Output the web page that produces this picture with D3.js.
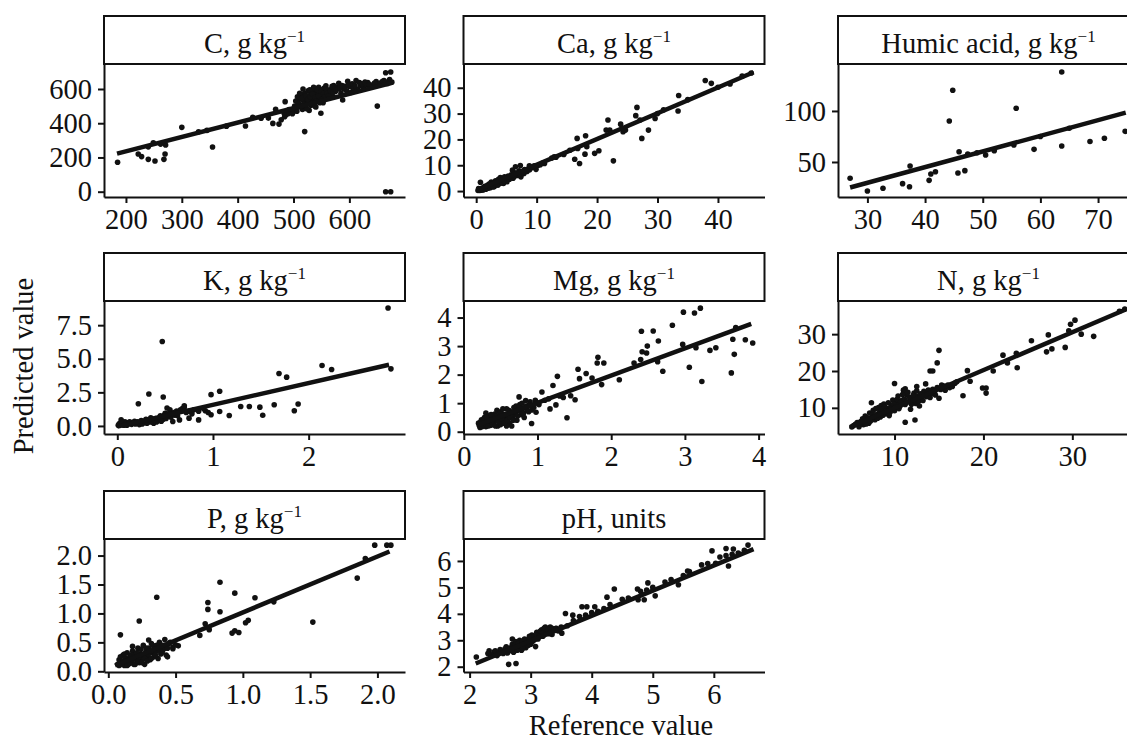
<!DOCTYPE html>
<html><head><meta charset="utf-8">
<script src="https://cdn.jsdelivr.net/npm/d3@7"></script>
<style>
body{margin:0;background:#fff}
text{font-family:"Liberation Serif","Times New Roman",serif;fill:#111}
</style>
</head><body>
<svg id="chart" width="1127" height="742"></svg>
<script>
// ---------------- DATA ----------------
const panelNames = ["C", "Ca", "Humic acid", "K", "Mg", "N", "P", "pH"];
const panelUnits = ["g kg", "g kg", "g kg", "g kg", "g kg", "g kg", "g kg", "units"];
const unitExponents = ["−1", "−1", "−1", "−1", "−1", "−1", "−1", ""];

const xTicks = [[200,300,400,500,600],[0,10,20,30,40],[30,40,50,60,70],[0,1,2],[0,1,2,3,4],[10,20,30],[0,0.5,1,1.5,2],[2,3,4,5,6]];
const yTicks = [[0,200,400,600],[0,10,20,30,40],[50,100],[0,2.5,5,7.5],[0,1,2,3,4],[10,20,30],[0,0.5,1,1.5,2],[2,3,4,5,6]];
const tickFormats = ["d","d","d","d","d","d",".1f","d"];
const yTickFormats = ["d","d","d",".1f","d","d",".1f","d"];

const xDomains = [[160.7,699.6],[-2.1,47.7],[24.9,77.1],[-0.139,3.007],[-0.004,4.08],[3.64,37.5],[-0.032,2.205],[1.9,6.83]];
const yDomains = [[-31,746],[-2.3,49.2],[15.7,146],[-0.6,9.3],[-0.08,4.58],[2.9,39],[-0.012,2.286],[1.8,6.83]];

const pointsC = [[185,172],[222,220],[228,205],[240,189],[252,179],[268,189],[270,220],[271,273],[249,286],[240,262],[262,278],[300,376],[355,261],[330,350],[345,358],[380,383],[414,384],[427,434],[442,429],[455,430],[463,399],[474,395],[468,481],[484,438],[486,448],[485,526],[496,468],[490,455],[500,470],[520,351],[549,458],[650,500],[665,0],[674,0],[665,695],[674,699],
[505,490],[508,520],[510,540],[512,505],[514,560],[516,480],[518,530],[520,575],[521,500],[523,545],[525,520],[526,590],[527,560],[528,475],[530,535],[531,505],[532,580],[533,555],[535,600],[536,520],[537,540],[538,570],[540,495],[541,585],[542,555],[544,530],[545,610],[546,575],[548,545],[550,595],[552,560],[553,520],[555,605],[557,580],[558,619],[560,550],[562,590],[565,570],[568,600],[570,555],[572,620],
[575,585],[578,610],[581,633],[585,575],[588,536],[590,600],[595,590],[597,645],[600,615],[603,580],[607,605],[612,649],[615,600],[620,620],[625,610],[630,625],[633,637],[638,615],[642,625],[648,643],[652,628],[658,640],[662,650],[668,632],[672,655],[676,640],
[502,500],[504,530],[506,470],[507,555],[509,515],[511,575],[513,495],[515,545],[517,600],[519,510],[522,560],[524,485],[526,540],[529,595],[530,555],[532,515],[534,570],[536,610],[538,500],[539,550],[541,530],[543,595],[545,560],[547,520],[549,585],[551,540],[554,575],[556,555],[559,600],[561,575],[563,560],[566,590],[569,615],[571,580],[574,600],[577,595],[583,605],[587,620],[592,615],[598,625],[605,630],[610,620],[618,638],[623,630],[628,640],[635,628],[645,635],[655,632],[660,645],[665,640],[478,420],[483,460],[492,480],[498,455]];
const fitC = [[184,222],[675,635]];

const pointsCa = [[0.7,3.4],[37.9,42.8],[38.9,41.7],[33.5,37],[33.4,31],[26.6,32.4],[26.4,29.2],[21.8,27.5],[21.5,23.6],[22.1,23.6],[23.9,25.9],[24.3,23],[24.7,23.6],[22.7,11.7],[16.7,20.4],[18.1,21.4],[16.3,12.3],[17.1,10.7],[18,14.3],[19.6,14.6],[20.3,15.6],[18.3,17.2],[16.8,16.5],[27.4,20.4],[28.5,23.6],[29.6,28.1],[27.1,27.5],[6.5,9.4],[7.3,9.9],[6,8.1],[7.9,6.8],[7.4,5.5],[8.8,9.8],[9.9,8.4],[9.6,9.8],[11.3,10.7],[12.9,13.3],
[0.3,0.2],[0.5,0.6],[0.8,0.3],[1,1.2],[1.2,0.6],[1.4,1.8],[1.5,0.9],[1.7,1.5],[1.9,2.3],[2,1.1],[2.2,2.8],[2.4,1.7],[2.5,3.5],[2.7,2.2],[2.9,3.1],[3,1.8],[3.2,4],[3.4,2.6],[3.5,3.5],[3.7,4.6],[3.9,2.9],[4,5.2],[4.2,3.8],[4.4,4.7],[4.5,2.9],[4.7,5.5],[4.9,4.1],[5.1,3.6],[5.3,5.8],[5.5,4.6],[5.8,6.3],[6.1,5],[6.4,7.1],[6.8,6],[7.1,7.8],[7.5,6.5],[8,8.3],[8.4,7.6],[9,8.8],[9.5,9.4],[10.3,10],[11,10.8],[12.5,12.8],[13.2,13.1],[14.5,14.2],[15.5,15.8],[30,30],[31,31.5],[35,35.4],[40,40.2],[42,41.5],[44,44.5],[45.5,45.7],
[0.4,1],[0.6,0.2],[0.9,0.8],[1.1,0.4],[1.3,1.4],[1.6,0.7],[1.8,1.9],[2.1,2],[2.3,1.3],[2.6,2.6],[2.8,1.6],[3.1,2.9],[3.3,3.4],[3.6,2.3],[3.8,3.7],[4.1,4.3],[4.3,3.2],[4.6,4.1],[4.8,5],[5,4.6],[5.2,5.2],[5.6,5.4],[6,6.2],[6.3,5.6],[6.6,6.7],[7,7.2],[7.3,6.8],[7.8,7.5],[8.2,8],[8.8,8.2],[9.3,9.1],[10,9.8],[10.6,10.2]];
const fitCa = [[0.2,0.4],[45.9,46]];

const pointsHumic = [[27,34],[30,21.6],[32.7,24.2],[36.1,28.8],[37.3,25.8],[37.4,46],[40.7,32],[41,38.2],[41.8,40.5],[44.2,90.2],[44.8,120.3],[45.7,39.2],[45.9,60],[46.9,41.5],[47.4,57.8],[50.5,56.9],[55.8,102.6],[55.4,66.7],[58.9,62.4],[63.7,65.7],[63.7,138.2],[68.6,70],[71.1,73.2],[74.7,80],[49,59],[52,61],[60,75],[65,83]];
const fitHumic = [[27,25],[74.8,98.3]];

const pointsK = [[2.83,8.78],[2.86,4.25],[0.47,6.28],[0.33,2.38],[0.22,1.65],[0.48,2.15],[0.52,1.33],[0.98,2.33],[1.07,2.58],[1.07,1.08],[0.98,0.83],[1.17,0.78],[1.29,1.45],[1.38,1.45],[1.49,1.4],[1.52,0.8],[1.64,1.58],[1.69,3.9],[1.77,3.63],[1.85,1.13],[1.89,1.63],[2.14,4.5],[2.24,4.2],[0.85,0.45],[0.75,0.58],[0.92,1.13],[0.70,1.38],[0.65,0.45],[0.58,0.33],
[0.01,0.05],[0.03,0.2],[0.04,0.45],[0.06,0.1],[0.08,0.3],[0.1,0.05],[0.12,0.25],[0.15,0.12],[0.18,0.35],[0.2,0.2],[0.23,0.1],[0.25,0.4],[0.28,0.25],[0.3,0.5],[0.33,0.3],[0.35,0.6],[0.38,0.2],[0.4,0.55],[0.43,0.4],[0.45,0.75],[0.48,0.5],[0.5,0.95],[0.52,0.7],[0.55,1.2],[0.57,0.9],[0.6,0.8],[0.62,1.1],[0.68,1.3],[0.72,1.0],[0.8,1.2],
[0.02,0.15],[0.05,0.3],[0.07,0.05],[0.09,0.2],[0.11,0.12],[0.13,0.3],[0.16,0.2],[0.19,0.15],[0.21,0.3],[0.24,0.2],[0.26,0.15],[0.29,0.35],[0.31,0.2],[0.34,0.45],[0.36,0.3],[0.39,0.4],[0.41,0.3],[0.44,0.6],[0.46,0.35],[0.49,0.8],[0.51,0.55],[0.53,0.9],[0.56,0.65],[0.59,1.0],[0.63,0.75],[0.66,1.2],[0.7,1.5],[0.75,1.1],[0.78,0.9],[0.85,1.1],[0.9,1.3],[0.95,1.0]];
const fitK = [[0.0,-0.05],[2.84,4.55]];

const pointsMg = [[2.98,4.19],[3.13,4.16],[3.21,4.33],[2.41,3.52],[2.57,3.53],[2.83,3.73],[2.97,3.06],[2.64,3.18],[2.48,2.76],[2.42,2.8],[2.49,3.0],[2.4,2.53],[2.31,2.41],[2.7,2.12],[2.63,2.45],[3.06,2.26],[3.23,1.76],[3.15,2.94],[3.34,2.85],[3.42,2.94],[3.63,2.06],[3.65,3.24],[3.67,2.71],[3.69,3.65],[3.82,3.22],[3.92,3.11],[2.11,1.82],[1.81,2.41],[1.9,2.41],[1.82,2.61],[1.87,1.65],[1.66,2.04],[1.55,2.19],[1.57,1.86],[1.74,1.88],[1.4,0.49],[1.27,1.94],[1.21,1.62],[1.06,1.39],[1.17,0.8],[1.25,0.94],[1.45,1.26],[1.51,1.12],[0.92,0.76],[0.92,0.29],[0.98,0.68],[0.75,1.22],[0.84,1.09],
[0.2,0.3],[0.22,0.15],[0.24,0.42],[0.26,0.25],[0.28,0.5],[0.3,0.18],[0.32,0.35],[0.34,0.55],[0.36,0.22],[0.38,0.45],[0.4,0.3],[0.42,0.62],[0.44,0.4],[0.46,0.2],[0.48,0.52],[0.5,0.7],[0.52,0.35],[0.54,0.6],[0.56,0.45],[0.58,0.8],[0.6,0.55],[0.62,0.3],[0.64,0.7],[0.66,0.5],[0.68,0.85],[0.7,0.62],[0.72,0.4],[0.74,0.75],[0.76,0.95],[0.78,0.6],[0.8,0.82],[0.82,0.5],[0.85,0.9],[0.88,0.7],[0.9,1.05],[0.95,0.85],[1.0,1.0],[0.3,0.65],[0.5,0.25],[0.45,0.75],[0.65,0.2],[0.58,0.2],
[0.21,0.22],[0.23,0.35],[0.25,0.18],[0.27,0.4],[0.29,0.28],[0.31,0.5],[0.33,0.2],[0.35,0.4],[0.37,0.6],[0.39,0.25],[0.41,0.45],[0.43,0.2],[0.45,0.55],[0.47,0.35],[0.49,0.65],[0.51,0.45],[0.53,0.8],[0.55,0.3],[0.57,0.6],[0.59,0.4],[0.61,0.75],[0.63,0.5],[0.65,0.65],[0.67,0.4],[0.69,0.7],[0.71,0.9],[0.73,0.55],[0.75,0.85],[0.77,0.7],[0.79,1.0],[0.81,0.65],[0.83,0.85],[0.86,0.75],[0.89,0.95],[0.93,0.9],[0.97,1.1],[1.02,0.95],[1.1,1.1],[1.15,1.15],[1.3,1.25],[1.35,1.2]];
const fitMg = [[0.19,0.24],[3.9,3.78]];

const pointsN = [[15,25.6],[14.8,22.2],[14,20],[14.3,20],[10,16.6],[11.2,15.2],[11.1,14.5],[13.5,16.5],[12.5,15.8],[11.2,6.1],[12.3,6.7],[7.4,11.4],[8.5,10.6],[17.7,13.3],[18.2,20.1],[18.5,17.2],[19.9,15.4],[20.3,15.4],[20.3,14],[21.1,20],[22.2,24.3],[22.7,22.2],[23.7,24.8],[23.8,20.9],[25.4,28.2],[27.1,25.2],[27.3,29.8],[27.7,26],[29.2,26.4],[29.6,30.9],[30.3,33.8],[29.8,32.7],[31,30],[32.4,29.4],[35.9,36.8],[35.3,36.2],
[5.2,4.8],[5.6,5.5],[6,4.9],[6.2,6.3],[6.5,5.4],[6.7,7.8],[6.9,6.5],[7.1,5.8],[7.2,8.6],[7.4,7.2],[7.6,9.3],[7.8,6.8],[8,8.2],[8.2,10.1],[8.4,7.5],[8.6,9],[8.8,11],[9,8.4],[9.2,9.8],[9.4,7.9],[9.6,10.5],[9.8,12.1],[10,9.2],[10.2,11.3],[10.4,13.2],[10.6,10.4],[10.8,12],[11,14.8],[11.2,10.9],[11.4,13.5],[11.6,11.7],[11.8,9.6],[12,12.6],[12.2,14],[12.4,11.2],[12.6,13.1],[12.8,10.5],[13,12.5],[13.3,14.5],[13.6,13],[14,12.8],[14.3,15],[14.6,13.5],[15,12.6],[15.3,16.2],[15.7,14.8],[16.2,15.5],[16.8,16.7],
[5.4,5.2],[5.8,6],[6.1,5.5],[6.4,7],[6.6,6],[6.8,5.6],[7,7.3],[7.3,6.4],[7.5,8.1],[7.7,7.6],[7.9,9.8],[8.1,7.2],[8.3,8.8],[8.5,9.6],[8.7,8],[8.9,10.3],[9.1,9.2],[9.3,11.4],[9.5,8.8],[9.7,9.9],[9.9,11],[10.1,10.2],[10.3,12.3],[10.5,9.8],[10.7,11.6],[10.9,13.6],[11.1,12.4],[11.3,11.5],[11.5,14.2],[11.7,12.8],[11.9,11],[12.1,13.4],[12.3,12],[12.5,14.6],[12.7,11.8],[12.9,13.8],[13.2,12],[13.5,13.7],[13.8,14.8],[14.2,13.9],[14.5,14.4],[14.8,15.5],[15.2,15],[15.6,15.9],[16,16.2],[16.5,15.8],[17,17.1]];
const fitN = [[5,4.8],[36,36.7]];

const pointsP = [[0.09,0.63],[0.23,0.87],[0.36,1.28],[0.83,1.54],[0.94,1.35],[0.74,1.19],[0.74,1.07],[0.83,1.03],[0.72,0.82],[1.02,0.84],[1.04,0.88],[1.09,1.27],[0.92,0.66],[0.94,0.70],[0.97,0.67],[1.23,1.2],[1.52,0.85],[1.85,1.61],[1.91,1.95],[1.98,2.18],[2.07,2.18],[2.1,2.18],[0.68,0.62],[0.75,0.72],[0.3,0.54],[0.52,0.44],[0.48,0.39],[0.18,0.43],
[0.07,0.12],[0.08,0.2],[0.1,0.15],[0.11,0.28],[0.12,0.1],[0.13,0.22],[0.14,0.32],[0.15,0.12],[0.16,0.25],[0.17,0.18],[0.18,0.35],[0.19,0.12],[0.2,0.28],[0.21,0.2],[0.22,0.4],[0.23,0.15],[0.24,0.3],[0.25,0.22],[0.26,0.45],[0.27,0.12],[0.28,0.35],[0.29,0.25],[0.3,0.4],[0.31,0.2],[0.32,0.48],[0.33,0.32],[0.34,0.25],[0.35,0.42],[0.36,0.35],[0.37,0.22],[0.38,0.5],[0.39,0.3],[0.4,0.45],[0.41,0.38],[0.42,0.55],[0.43,0.28],[0.44,0.25],[0.45,0.48],[0.48,0.42],[0.5,0.46],
[0.08,0.1],[0.09,0.25],[0.1,0.12],[0.11,0.18],[0.12,0.3],[0.13,0.15],[0.14,0.1],[0.15,0.2],[0.16,0.14],[0.17,0.28],[0.18,0.2],[0.19,0.25],[0.2,0.12],[0.21,0.32],[0.22,0.18],[0.23,0.25],[0.24,0.38],[0.25,0.15],[0.26,0.3],[0.27,0.22],[0.28,0.4],[0.29,0.18],[0.3,0.3],[0.31,0.35],[0.32,0.22],[0.33,0.45],[0.34,0.35],[0.35,0.28],[0.36,0.45],[0.38,0.38],[0.4,0.33],[0.42,0.45],[0.44,0.4],[0.46,0.5]];
const fitP = [[0.05,0.1],[2.09,2.07]];

const pointsPH = [[2.11,2.37],[2.32,2.6],[2.64,2.09],[2.76,2.12],[2.7,3.05],[3.08,2.76],[3.69,3.95],[3.84,4.27],[3.92,4.27],[4.05,4.27],[4.25,4.63],[4.37,4.94],[4.75,4.94],[4.76,4.53],[4.86,4.53],[4.92,5.17],[5.04,4.68],[5.42,5.1],[5.57,5.62],[5.97,6.38],[6.24,5.81],[6.2,6.47],[6.32,6.45],[6.56,6.6],[6.03,5.91],[3.57,4.01],[3.35,3.22],[3.24,3.5],[3.32,3.5],[3.41,3.44],[3.51,3.27],
[2.3,2.5],[2.4,2.55],[2.45,2.42],[2.5,2.65],[2.55,2.5],[2.6,2.75],[2.65,2.6],[2.7,2.85],[2.72,2.55],[2.75,2.95],[2.8,2.7],[2.82,3.0],[2.85,2.62],[2.88,2.85],[2.9,3.05],[2.92,2.72],[2.95,2.95],[2.98,3.15],[3.0,2.85],[3.02,3.2],[3.05,3.0],[3.1,3.3],[3.12,3.05],[3.15,3.25],[3.18,3.4],[3.2,3.15],[3.25,3.35],[3.3,3.25],[3.35,3.45],[3.45,3.35],[3.5,3.5],[3.6,3.55],[3.8,3.9],[4.0,4.05],[4.2,4.2],[4.5,4.55],[4.8,4.85],[5.2,5.2],[5.5,5.45],[5.8,5.85],[6.1,6.15],[6.4,6.3],
[2.35,2.45],[2.42,2.6],[2.48,2.5],[2.52,2.58],[2.58,2.68],[2.62,2.52],[2.68,2.72],[2.7,2.65],[2.74,2.8],[2.78,2.62],[2.8,2.9],[2.83,2.78],[2.86,2.95],[2.87,2.7],[2.9,2.85],[2.93,3.0],[2.96,2.8],[2.97,3.05],[3.0,3.1],[3.03,2.95],[3.06,3.15],[3.08,3.05],[3.1,3.2],[3.14,3.15],[3.16,3.35],[3.2,3.3],[3.22,3.45],[3.28,3.4],[3.32,3.3],[3.38,3.4],[3.42,3.45],[3.48,3.42],[3.7,3.75],[3.9,3.95],[4.1,4.1],[4.3,4.35],[4.6,4.6],[4.9,4.9],[5.0,5.0],[5.3,5.3],[5.6,5.6],[5.9,5.9],[6.2,6.2],[6.3,6.25],[6.5,6.4]];
const fitPH = [[2.1,2.12],[6.65,6.45]];

const allPoints = [pointsC, pointsCa, pointsHumic, pointsK, pointsMg, pointsN, pointsP, pointsPH];
const allFits = [fitC, fitCa, fitHumic, fitK, fitMg, fitN, fitP, fitPH];

// ---------------- LAYOUT ----------------
const colLeft = [104, 463.5, 838];
const rowTop = [16, 253, 491];
const stripH = 48, plotH = 133, plotW = 301;
const fontSize = 28.5;

const svg = d3.select("#chart");

panelNames.forEach((name, i) => {
  const col = i % 3, row = Math.floor(i / 3);
  const g = svg.append("g").attr("transform", `translate(${colLeft[col]},${rowTop[row]})`);

  const x = d3.scaleLinear().domain(xDomains[i]).range([0, plotW]);
  const y = d3.scaleLinear().domain(yDomains[i]).range([stripH + plotH, stripH]);

  // strip
  g.append("rect").attr("x", 0).attr("y", 0).attr("width", plotW).attr("height", stripH)
    .attr("fill", "#fff").attr("stroke", "#111").attr("stroke-width", 2);
  const t = g.append("text").attr("x", plotW / 2).attr("y", 37)
    .attr("text-anchor", "middle").attr("font-size", fontSize);
  t.append("tspan").text(name + ", " + panelUnits[i]);
  if (unitExponents[i]) {
    t.append("tspan").attr("font-size", 17).attr("dy", -11).text(unitExponents[i]);
  }

  // points
  g.append("g").selectAll("circle").data(allPoints[i]).join("circle")
    .attr("cx", d => x(d[0])).attr("cy", d => y(d[1])).attr("r", 2.8).attr("fill", "#111");

  // fit line
  g.append("path").datum(allFits[i])
    .attr("d", d3.line().x(d => x(d[0])).y(d => y(d[1])))
    .attr("fill", "none").attr("stroke", "#111").attr("stroke-width", 4.5);

  // axes
  const xa = g.append("g").attr("transform", `translate(0,${stripH + plotH})`)
    .call(d3.axisBottom(x).tickValues(xTicks[i]).tickFormat(d3.format(tickFormats[i])).tickSize(6).tickSizeOuter(0).tickPadding(6));
  const ya = g.append("g")
    .call(d3.axisLeft(y).tickValues(yTicks[i]).tickFormat(d3.format(yTickFormats[i])).tickSize(6).tickSizeOuter(0).tickPadding(6));
  [xa, ya].forEach(a => {
    a.selectAll("path,line").attr("stroke", "#111").attr("stroke-width", 2);
    a.selectAll("text").attr("font-size", fontSize).attr("font-family", '"Liberation Serif","Times New Roman",serif').attr("fill", "#111");
  });
});

// axis titles
svg.append("text").attr("transform", "translate(33,366) rotate(-90)")
  .attr("text-anchor", "middle").attr("font-size", fontSize).text("Predicted value");
svg.append("text").attr("x", 621).attr("y", 735)
  .attr("text-anchor", "middle").attr("font-size", fontSize).text("Reference value");
</script>
</body></html>
